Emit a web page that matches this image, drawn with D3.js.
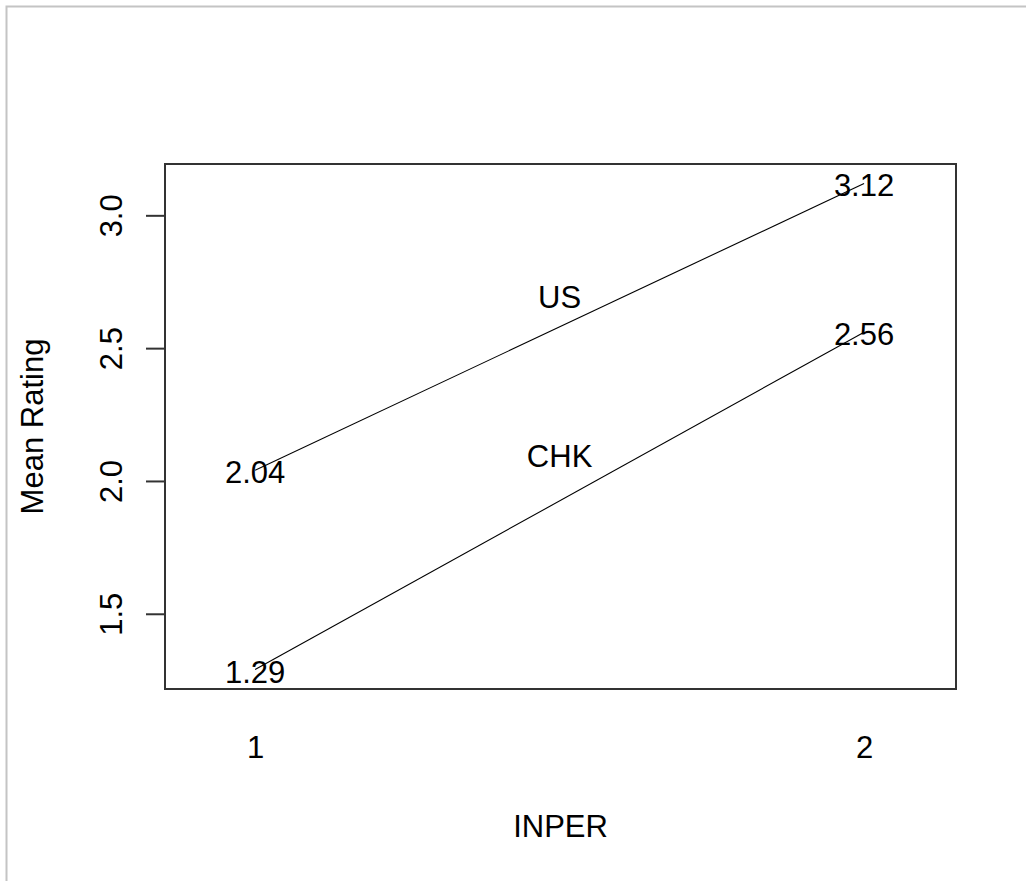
<!DOCTYPE html>
<html>
<head>
<meta charset="utf-8">
<script src="https://cdn.jsdelivr.net/npm/d3@7"></script>
<style>
  html, body { margin: 0; padding: 0; background: #fff; }
  svg { display: block; }
  text { font-family: "Liberation Sans", Arial, sans-serif; fill: #000; }
</style>
</head>
<body>
<script>
// ---- data ----
const inper = [1, 2];
const usMeans = [2.04, 3.12];
const chkMeans = [1.29, 2.56];
const seriesNames = ["US", "CHK"];
const seriesLabelX = [1.5, 1.5];
const seriesLabelY = [2.7, 2.1];
const yTicks = [1.5, 2.0, 2.5, 3.0];
const xTickLabels = ["1", "2"];
const xLabel = "INPER";
const yLabel = "Mean Rating";

// ---- layout ----
const W = 1026, H = 881;
const plot = { left: 165, right: 956, top: 164, bottom: 689 };
const fs = 31;

const svg = d3.select("body").append("svg").attr("width", W).attr("height", H);
svg.append("rect").attr("width", W).attr("height", H).attr("fill", "#fff");
svg.append("rect").attr("x", 6.5).attr("y", 6.5).attr("width", W + 20).attr("height", H + 20)
  .attr("fill", "none").attr("stroke", "#c4c4c4").attr("stroke-width", 2);

const x = d3.scaleLinear().domain([0.852, 2.151]).range([plot.left, plot.right]);
const allVals = usMeans.concat(chkMeans);
const ext = d3.extent(allVals);
const pad = (ext[1] - ext[0]) * 0.04;
const y = d3.scaleLinear().domain([ext[0] - pad, ext[1] + pad]).range([plot.bottom, plot.top]);

// lines
const line = d3.line().x((d, i) => x(inper[i])).y(d => y(d));
[usMeans, chkMeans].forEach(s => {
  svg.append("path").datum(s).attr("d", line).attr("fill", "none")
    .attr("stroke", "#000").attr("stroke-width", 1.1);
});

// value labels
const valFmt = d3.format(".2f");
[usMeans, chkMeans].forEach(s => {
  svg.selectAll(null).data(s).enter().append("text")
    .attr("x", (d, i) => x(inper[i]))
    .attr("y", d => y(d) + 13)
    .attr("text-anchor", "middle")
    .attr("font-size", fs)
    .text(d => valFmt(d));
});

// series labels
svg.selectAll(null).data(seriesNames).enter().append("text")
  .attr("x", (d, i) => x(seriesLabelX[i]))
  .attr("y", (d, i) => y(seriesLabelY[i]) + 13)
  .attr("text-anchor", "middle")
  .attr("font-size", fs)
  .text(d => d);

// box
svg.append("rect").attr("x", plot.left).attr("y", plot.top)
  .attr("width", plot.right - plot.left).attr("height", plot.bottom - plot.top)
  .attr("fill", "none").attr("stroke", "#333").attr("stroke-width", 2);

// y axis
const yAxis = svg.append("g").attr("transform", `translate(${plot.left},0)`)
  .call(d3.axisLeft(y).tickValues(yTicks).tickSize(19).tickFormat(d3.format(".1f")));
yAxis.select(".domain").remove();
yAxis.selectAll(".tick line").attr("stroke", "#333").attr("stroke-width", 2);
yAxis.selectAll(".tick text")
  .attr("x", null).attr("dy", null).attr("y", null)
  .attr("transform", "translate(-43,0) rotate(-90)")
  .attr("text-anchor", "middle")
  .attr("font-size", fs)
  .attr("font-family", "Liberation Sans, Arial, sans-serif")
  .attr("fill", "#000");

// x axis labels (no ticks)
const xAxis = svg.append("g").attr("transform", `translate(0,${plot.bottom})`)
  .call(d3.axisBottom(x).tickValues(inper).tickSize(0).tickFormat((d, i) => xTickLabels[i]));
xAxis.select(".domain").remove();
xAxis.selectAll(".tick text")
  .attr("y", 69).attr("dy", null)
  .attr("font-size", fs)
  .attr("font-family", "Liberation Sans, Arial, sans-serif")
  .attr("fill", "#000");

// axis titles
svg.append("text").attr("x", (plot.left + plot.right) / 2).attr("y", 837)
  .attr("text-anchor", "middle").attr("font-size", fs).text(xLabel);
svg.append("text")
  .attr("transform", `translate(43,${(plot.top + plot.bottom) / 2}) rotate(-90)`)
  .attr("text-anchor", "middle").attr("font-size", fs).text(yLabel);
</script>
</body>
</html>
